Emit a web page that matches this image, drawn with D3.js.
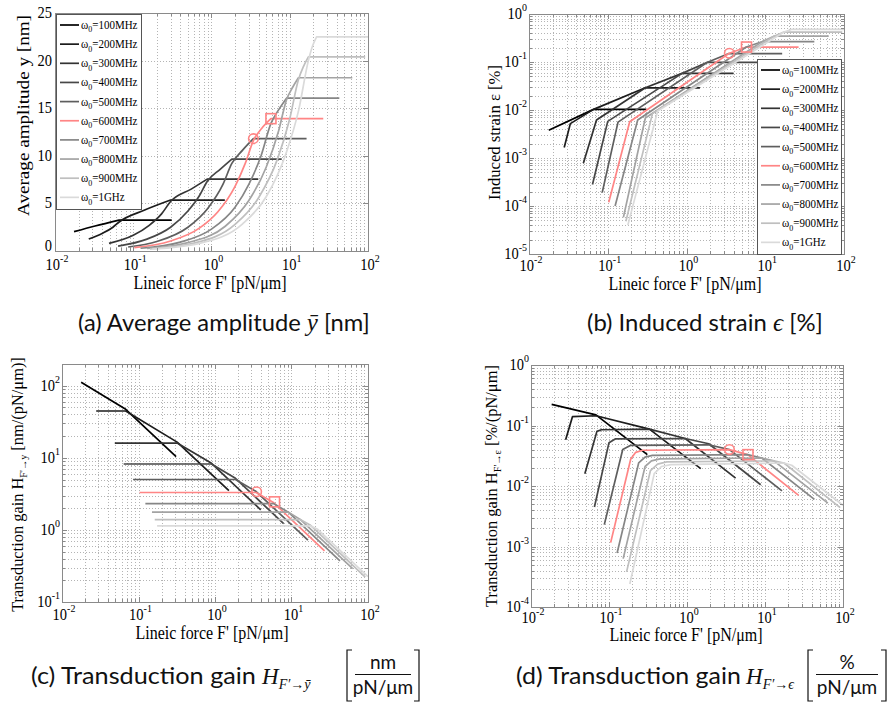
<!DOCTYPE html>
<html>
<head>
<meta charset="utf-8">
<script src="https://cdn.jsdelivr.net/npm/d3@7"></script>
<style>
  body { margin: 0; background: #fff; }
</style>
</head>
<body>
<div id="chart"></div>
<script>
// ---- data ----
const freqs = ["100MHz", "200MHz", "300MHz", "400MHz", "500MHz", "600MHz", "700MHz", "800MHz", "900MHz", "1GHz"];
const forceDecades = [-2, -1, 0, 1, 2];

// (a) average amplitude [nm] vs lineic force [pN/um]
const ampTicks = [0, 5, 10, 15, 20, 25];
const ampCurves = [
  [[0.0175, 2.03], [0.0325, 2.63], [0.066, 3.25], [0.31, 3.25]],
  [[0.027, 1.26], [0.04, 1.85], [0.055, 2.5], [0.066, 3.05], [0.14, 4.3], [0.30, 5.35], [1.48, 5.35]],
  [[0.049, 0.8], [0.1, 1.65], [0.16, 2.7], [0.23, 3.9], [0.30, 5.2], [0.55, 6.5], [0.88, 7.55], [3.96, 7.55]],
  [[0.064, 0.52], [0.15, 1.25], [0.3, 2.5], [0.5, 4.2], [0.7, 5.8], [0.88, 7.3], [1.3, 8.6], [1.82, 9.65], [7.9, 9.65]],
  [[0.086, 0.42], [0.2, 1.0], [0.5, 2.5], [0.9, 4.5], [1.4, 7.0], [1.82, 9.2], [2.5, 10.6], [3.43, 11.8], [16.4, 11.8]],
  [[0.103, 0.35], [0.3, 1.05], [0.7, 2.4], [1.2, 4.1], [2.0, 6.8], [2.7, 9.2], [3.43, 11.6], [4.4, 12.9], [5.75, 13.9], [26.8, 13.9]],
  [[0.124, 0.29], [0.4, 0.93], [1.0, 2.3], [2.0, 4.6], [3.0, 7.0], [4.3, 10.0], [5.75, 13.4], [7.3, 14.9], [9.1, 16.05], [43, 16.05]],
  [[0.15, 0.26], [0.5, 0.88], [1.5, 2.6], [3, 5.3], [5, 8.8], [7.2, 12.6], [9.1, 15.9], [10.9, 17.2], [12.9, 18.2], [63, 18.2]],
  [[0.163, 0.23], [0.6, 0.83], [2, 2.8], [4, 5.6], [7, 9.7], [10, 13.9], [12.9, 18.0], [15, 19.4], [17.3, 20.4], [92, 20.4]],
  [[0.175, 0.2], [0.7, 0.8], [2.5, 2.85], [5, 5.7], [9, 10.3], [13, 14.8], [17.3, 20.0], [19.5, 21.5], [22, 22.5], [100, 22.5]]
];
const ampMarks = [[3.43, 11.8], [5.75, 13.9]];

// (b) induced strain [%]
const strainDecades = [-5, -4, -3, -2, -1, 0];
const strainCurves = [
  [[0.0178, 0.0038], [0.066, 0.0103], [0.31, 0.0103]],
  [[0.028, 0.00165], [0.0335, 0.0052], [0.066, 0.0103], [0.30, 0.029], [1.48, 0.029]],
  [[0.049, 0.00078], [0.072, 0.0062], [0.30, 0.029], [0.88, 0.058], [3.96, 0.058]],
  [[0.064, 0.00028], [0.1, 0.0058], [0.88, 0.058], [1.82, 0.098], [7.9, 0.098]],
  [[0.085, 0.00019], [0.135, 0.0056], [1.82, 0.098], [3.45, 0.15], [16.4, 0.15]],
  [[0.103, 0.00012], [0.19, 0.0057], [3.45, 0.15], [5.75, 0.205], [26.5, 0.205]],
  [[0.124, 0.0001], [0.24, 0.0062], [5.75, 0.205], [9.1, 0.265], [42, 0.265]],
  [[0.158, 0.000058], [0.3, 0.0068], [9.1, 0.265], [12.9, 0.345], [64, 0.345]],
  [[0.17, 0.000048], [0.37, 0.0085], [12.9, 0.345], [17.3, 0.42], [95, 0.42]],
  [[0.18, 0.00004], [0.43, 0.0095], [17.3, 0.42], [22, 0.48], [100, 0.48]]
];
const strainMarks = [[3.5, 0.152], [5.78, 0.205]];

// (c) transduction gain F' -> y [nm/(pN/um)]
const gainYDecades = [-1, 0, 1, 2];
const gainYCurves = [
  [[0.0178, 112], [0.068, 47], [0.31, 10.4]],
  [[0.028, 44.6], [0.068, 44.6], [0.32, 16.5], [1.52, 3.5]],
  [[0.049, 16], [0.32, 16], [0.9, 8.4], [3.96, 1.9]],
  [[0.064, 8.2], [0.9, 8.2], [1.85, 5.2], [7.9, 1.22]],
  [[0.085, 5.0], [1.85, 5.0], [3.45, 3.4], [16.4, 0.72]],
  [[0.103, 3.3], [3.45, 3.3], [5.8, 2.4], [27, 0.51]],
  [[0.123, 2.32], [5.8, 2.32], [9.1, 1.76], [43, 0.373]],
  [[0.15, 1.76], [9.1, 1.76], [13, 1.4], [63, 0.29]],
  [[0.163, 1.39], [13, 1.39], [17.5, 1.17], [92, 0.222]],
  [[0.175, 1.14], [17.5, 1.14], [22, 1.02], [100, 0.225]]
];
const gainYMarks = [[3.5, 3.38], [6.0, 2.45]];

// (d) transduction gain F' -> strain [%/(pN/um)]
const gainEDecades = [-4, -3, -2, -1, 0];
const gainECurves = [
  [[0.0184, 0.224], [0.068, 0.15], [0.31, 0.033]],
  [[0.0278, 0.058], [0.034, 0.14], [0.068, 0.145], [0.33, 0.087], [1.5, 0.0194]],
  [[0.049, 0.016], [0.07, 0.08], [0.08, 0.085], [0.33, 0.087], [0.95, 0.061], [4.2, 0.0135]],
  [[0.065, 0.0045], [0.1, 0.052], [0.12, 0.06], [0.95, 0.061], [1.9, 0.05], [8.8, 0.0105]],
  [[0.087, 0.0023], [0.15, 0.04], [0.19, 0.047], [1.9, 0.048], [3.5, 0.04], [16.5, 0.0083]],
  [[0.105, 0.00116], [0.19, 0.028], [0.22, 0.036], [0.27, 0.039], [3.5, 0.04], [6, 0.033], [27, 0.007]],
  [[0.127, 0.00078], [0.24, 0.024], [0.29, 0.03], [0.36, 0.032], [6, 0.033], [9.1, 0.029], [43, 0.006]],
  [[0.152, 0.00063], [0.29, 0.021], [0.35, 0.026], [0.45, 0.028], [9.1, 0.029], [13, 0.026], [64, 0.0052]],
  [[0.168, 0.00038], [0.34, 0.018], [0.42, 0.023], [0.55, 0.025], [13, 0.026], [17.5, 0.024], [92, 0.0044]],
  [[0.185, 0.00024], [0.38, 0.016], [0.47, 0.021], [0.62, 0.0225], [17.5, 0.024], [22, 0.022], [100, 0.0048]]
];
const gainEMarks = [[3.5, 0.04], [6.05, 0.033]];

// ---- styles ----
const lineColors = ["#000000", "#1c1c1c", "#333333", "#474747", "#5e5e5e", "#ff8585", "#868686", "#a3a3a3", "#bfbfbf", "#dadada"];
const markColor = "#ff8585";
const frameColor = "#8a8a8a";
const gridColor = "#b4b4b4";
const serif = "'Liberation Serif', 'Times New Roman', serif";
const sans = "Lato, 'Open Sans', sans-serif";
const stretch = 1.12;

const svg = d3.select("#chart").append("svg")
  .attr("width", 889)
  .attr("height", 704)
  .attr("font-family", serif)
  .style("background", "#fff");

function pow10(e) { return Math.pow(10, e); }

function minorsOf(decades) {
  let out = [];
  decades.slice(0, -1).forEach(e => {
    for (let k = 2; k < 10; k++) out.push(k * pow10(e));
  });
  return out;
}

// horizontal text, slightly stretched vertically like the original
function hText(parent, x, y, anchor, size) {
  return parent.append("text")
    .attr("transform", `translate(${x},${y}) scale(1,${stretch})`)
    .attr("text-anchor", anchor)
    .attr("font-family", serif)
    .attr("font-size", size)
    .attr("fill", "#000");
}

function logLabel(t, e) {
  t.append("tspan").text("10");
  t.append("tspan").attr("font-size", 10).attr("dy", -7).text(e);
}

function drawPanel(p) {
  let g = svg.append("g");

  let x = d3.scaleLog().domain([1e-2, 1e2]).range([p.left, p.right]);
  let y = p.yLog
    ? d3.scaleLog().domain(p.yDomain).range([p.bottom, p.top])
    : d3.scaleLinear().domain(p.yDomain).range([p.bottom, p.top]);

  let xMajor = forceDecades.map(pow10);
  let xMinor = minorsOf(forceDecades);
  let yMajor = p.yLog ? p.yDecades.map(pow10).filter(v => v <= p.yDomain[1]) : p.yTicks;
  let yMinor = p.yLog ? minorsOf(p.yDecades.concat([p.yDecades[p.yDecades.length - 1] + 1])).filter(v => v < p.yDomain[1]) : [];

  // grid
  let grid = g.append("g")
    .attr("stroke", gridColor)
    .attr("stroke-width", 1)
    .attr("stroke-dasharray", "1,2");
  xMajor.concat(xMinor).forEach(v => {
    let px = Math.round(x(v)) + 0.5;
    if (px <= p.left + 1 || px >= p.right - 1) return;
    grid.append("line").attr("x1", px).attr("x2", px).attr("y1", p.top).attr("y2", p.bottom);
  });
  yMajor.concat(yMinor).forEach(v => {
    let py = Math.round(y(v)) + 0.5;
    if (py <= p.top + 1 || py >= p.bottom - 1) return;
    grid.append("line").attr("y1", py).attr("y2", py).attr("x1", p.left).attr("x2", p.right);
  });

  // curves
  let line = d3.line().x(d => x(d[0])).y(d => y(d[1]));
  let smooth = d3.line().x(d => x(d[0])).y(d => y(d[1])).curve(d3.curveMonotoneX);
  p.curves.forEach((c, i) => {
    let path;
    if (p.smoothRise) {
      path = smooth(c.slice(0, -1)) + "L" + x(c[c.length - 1][0]) + "," + y(c[c.length - 1][1]);
    } else {
      path = line(c);
    }
    g.append("path")
      .attr("d", path)
      .attr("fill", "none")
      .attr("stroke", lineColors[i])
      .attr("stroke-width", 1.7)
      .attr("stroke-linejoin", "round");
  });

  // markers: circle then square
  g.append("circle")
    .attr("cx", x(p.marks[0][0])).attr("cy", y(p.marks[0][1])).attr("r", 4.8)
    .attr("fill", "none").attr("stroke", markColor).attr("stroke-width", 1.6);
  g.append("rect")
    .attr("x", x(p.marks[1][0]) - 5).attr("y", y(p.marks[1][1]) - 5)
    .attr("width", 10).attr("height", 10)
    .attr("fill", "none").attr("stroke", markColor).attr("stroke-width", 1.6);

  // frame and ticks
  let fr = g.append("g").attr("stroke", frameColor).attr("stroke-width", 1).attr("fill", "none");
  fr.append("rect")
    .attr("x", p.left + 0.5).attr("y", p.top + 0.5)
    .attr("width", p.right - p.left).attr("height", p.bottom - p.top);
  let tick = (v, len) => {
    let px = Math.round(x(v)) + 0.5;
    fr.append("line").attr("x1", px).attr("x2", px).attr("y1", p.bottom).attr("y2", p.bottom - len);
    fr.append("line").attr("x1", px).attr("x2", px).attr("y1", p.top).attr("y2", p.top + len);
  };
  xMajor.forEach(v => tick(v, 5));
  xMinor.forEach(v => tick(v, 3));
  let ytick = (v, len) => {
    let py = Math.round(y(v)) + 0.5;
    fr.append("line").attr("y1", py).attr("y2", py).attr("x1", p.left).attr("x2", p.left + len);
    fr.append("line").attr("y1", py).attr("y2", py).attr("x1", p.right).attr("x2", p.right - len);
  };
  yMajor.forEach(v => ytick(v, 5));
  yMinor.forEach(v => ytick(v, 3));

  // tick labels
  forceDecades.forEach(e => {
    logLabel(hText(g, x(pow10(e)) + 2, p.xTickBase, "middle", 14.5), e);
  });
  if (p.yLog) {
    p.yDecades.forEach(e => {
      logLabel(hText(g, p.left - 2, y(pow10(e)) + 5, "end", 14.5), e);
    });
  } else {
    p.yTicks.forEach(v => {
      hText(g, p.left - 3, y(v) + (v === 0 ? 0 : 5), "end", 14.5).text(v);
    });
  }

  // x label
  let xl = hText(g, p.xLabelX, p.xLabelBase, "middle", 16).text("Lineic force F' [pN/\u03bcm]");
  let w = xl.node().getBBox().width;
  xl.attr("transform", `translate(${p.xLabelX},${p.xLabelBase}) scale(${153 / w},${stretch})`);

  // y label
  let yl = g.append("text").attr("text-anchor", "middle").attr("font-size", 16)
    .attr("font-family", serif).attr("fill", "#000");
  p.yLabel(yl);
  let wy = yl.node().getBBox().width;
  yl.attr("transform", `translate(${p.yLabelX},${p.yLabelY}) rotate(-90) scale(${p.yLabelLen / wy},1)`);

  // legend
  if (p.legend) {
    let L = p.legend;
    let lg = g.append("g");
    lg.append("rect")
      .attr("x", L.x + 0.5).attr("y", L.y + 0.5).attr("width", L.w).attr("height", L.h)
      .attr("fill", "#fff").attr("stroke", "#555").attr("stroke-width", 1);
    freqs.forEach((f, i) => {
      let cy = L.y + 11 + i * 19.15;
      lg.append("line")
        .attr("x1", L.x + 4).attr("x2", L.x + 23).attr("y1", cy).attr("y2", cy)
        .attr("stroke", lineColors[i]).attr("stroke-width", 1.7);
      let t = hText(lg, L.x + 25, cy + 4, "start", 11);
      t.append("tspan").text("\u03c9");
      t.append("tspan").attr("font-size", 8).attr("dy", 3).text("0");
      t.append("tspan").attr("dy", -3).text("=" + f);
    });
  }
}

// (a)
drawPanel({
  left: 55, right: 368, top: 13, bottom: 251,
  yLog: false, yDomain: [0, 25], yTicks: ampTicks,
  curves: ampCurves, marks: ampMarks, smoothRise: true,
  xTickBase: 270, xLabelX: 210, xLabelBase: 289,
  yLabelX: 29, yLabelY: 115.5, yLabelLen: 201,
  yLabel: t => t.text("Average amplitude y [nm]"),
  legend: { x: 56, y: 14, w: 85, h: 195 }
});

// (b)
drawPanel({
  left: 529, right: 844, top: 14, bottom: 254,
  yLog: true, yDomain: [1e-5, 1], yDecades: strainDecades,
  curves: strainCurves, marks: strainMarks, smoothRise: false,
  xTickBase: 271, xLabelX: 685, xLabelBase: 290,
  yLabelX: 500, yLabelY: 132.5, yLabelLen: 135,
  yLabel: t => t.text("Induced strain \u03b5 [%]"),
  legend: { x: 757, y: 59, w: 84, h: 195 }
});

// (c)
drawPanel({
  left: 62, right: 368, top: 364, bottom: 602,
  yLog: true, yDomain: [0.1, 200], yDecades: gainYDecades,
  curves: gainYCurves, marks: gainYMarks, smoothRise: false,
  xTickBase: 620, xLabelX: 212, xLabelBase: 639,
  yLabelX: 23, yLabelY: 484.5, yLabelLen: 255,
  yLabel: t => {
    t.append("tspan").text("Transduction gain H");
    t.append("tspan").attr("font-size", 10).attr("dy", 4).text("F'\u2192y");
    t.append("tspan").attr("dy", -4).text(" [nm/(pN/\u03bcm)]");
  }
});

// (d)
drawPanel({
  left: 531, right: 843, top: 365, bottom: 607,
  yLog: true, yDomain: [1e-4, 1], yDecades: gainEDecades,
  curves: gainECurves, marks: gainEMarks, smoothRise: false,
  xTickBase: 623, xLabelX: 686, xLabelBase: 641,
  yLabelX: 497, yLabelY: 486, yLabelLen: 242,
  yLabel: t => {
    t.append("tspan").text("Transduction gain H");
    t.append("tspan").attr("font-size", 10).attr("dy", 4).text("F'\u2192\u03b5");
    t.append("tspan").attr("dy", -4).text(" [%/(pN/\u03bcm]");
  }
});

// ---- captions ----
function fitted(x, base, width, size, build) {
  let t = svg.append("text").attr("font-size", size).attr("fill", "#111").attr("font-family", sans);
  build(t);
  let w = t.node().getBBox().width;
  t.attr("transform", `translate(${x},${base}) scale(${width / w},1.05)`);
  return t;
}
function mathSpan(t, s, size) {
  return t.append("tspan").attr("font-family", serif).attr("font-style", "italic")
    .attr("font-size", size || 23).text(s);
}

fitted(78, 331, 292, 22, t => {
  t.append("tspan").text("(a) Average amplitude ");
  mathSpan(t, "\u0233");
  t.append("tspan").text(" [nm]");
});
fitted(587, 331, 236, 22, t => {
  t.append("tspan").text("(b) Induced strain ");
  mathSpan(t, "\u03f5");
  t.append("tspan").text(" [%]");
});

function gainCaption(x, label, mathX, subs, bl, br, num) {
  fitted(x, 684, 225, 22, t => t.append("tspan").text(label));
  let m = svg.append("text").attr("x", mathX).attr("y", 684).attr("fill", "#111");
  mathSpan(m, "H", 23);
  mathSpan(m, subs, 14).attr("dy", 5);
  // big brackets and fraction
  let g = svg.append("g").attr("fill", "none").attr("stroke", "#111").attr("stroke-width", 1.2);
  g.append("path").attr("d", `M${bl + 5},650 H${bl} V701 H${bl + 5}`);
  g.append("path").attr("d", `M${br - 5},650 H${br} V701 H${br - 5}`);
  let fx = (bl + br) / 2;
  g.append("line").attr("x1", bl + 8).attr("x2", br - 8).attr("y1", 674.5).attr("y2", 674.5);
  svg.append("text").attr("x", fx).attr("y", 669).attr("text-anchor", "middle")
    .attr("font-size", 19).attr("font-family", sans).attr("fill", "#111").text(num);
  svg.append("text").attr("x", fx).attr("y", 694).attr("text-anchor", "middle")
    .attr("font-size", 19).attr("font-family", sans).attr("fill", "#111").text("pN/\u03bcm");
}
gainCaption(31, "(c) Transduction gain", 262, "F\u2032\u2192\u0233", 347, 419, "nm");
gainCaption(516, "(d) Transduction gain", 746, "F\u2032\u2192\u03f5", 808, 886, "%");
</script>
</body>
</html>
